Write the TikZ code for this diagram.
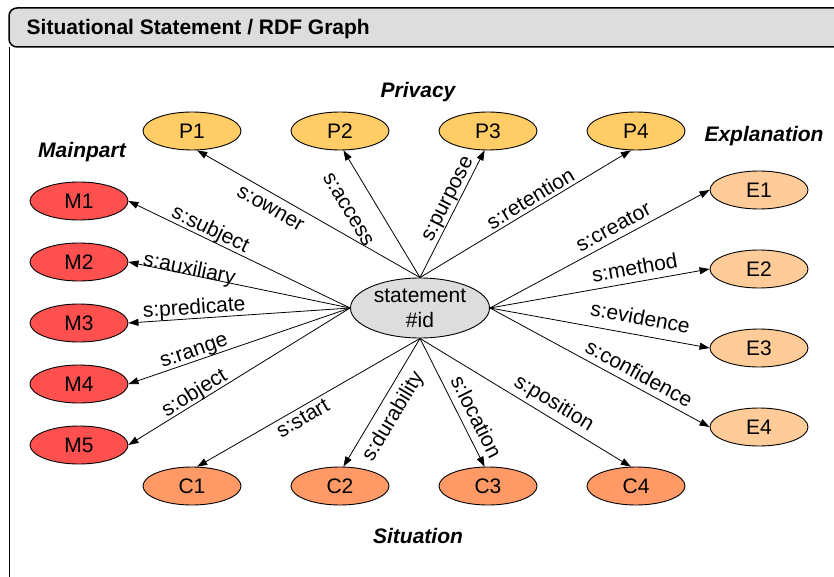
\documentclass[tikz,border=0pt]{standalone}
\usepackage{fontspec}
\setmainfont{Liberation Sans}
\usetikzlibrary{shapes,arrows.meta,positioning}
\definecolor{privfill}{HTML}{FFCC66}
\definecolor{mainfill}{HTML}{FF5050}
\definecolor{explfill}{HTML}{FFCC99}
\definecolor{sitfill}{HTML}{FF9966}
\definecolor{stmtfill}{HTML}{DDDDDD}
\tikzstyle{res} = [ellipse, draw, line width=0.9pt, minimum width=98pt, minimum height=38pt, inner sep=0pt, font=\fontsize{21}{25}\selectfont]
\tikzstyle{priv} = [res, fill=privfill]
\tikzstyle{mainp} = [res, fill=mainfill]
\tikzstyle{expl} = [res, fill=explfill]
\tikzstyle{sit} = [res, fill=sitfill]
\tikzstyle{stmt} = [res, fill=stmtfill, minimum width=139pt, minimum height=60pt, align=center]
\tikzstyle{group} = [font=\fontsize{21}{25}\selectfont\bfseries\itshape]
\tikzstyle{prop} = [sloped, inner sep=0pt, text height=10.9pt, text depth=0pt, font=\fontsize{21}{25}\selectfont]

\begin{document}
\begin{tikzpicture}[x=1pt, y=-1pt, node distance=148pt, >={Triangle[length=10pt,width=7pt]}, line width=0.8pt]
    \path[use as bounding box, clip] (0,0) rectangle (834,577);
    % Rahmen
    \draw[line width=1.5pt, fill=stmtfill, rounded corners=8pt] (9,8) rectangle (860,47);
    \node[anchor=west, font=\fontsize{21}{25}\selectfont\bfseries] (title) at (23,29.5) {Situational Statement / RDF Graph};
    \draw[line width=1.5pt] (9.5,47) -- (9.5,600);

    % Aussage
    \node[stmt] (stmt) at (420,308) {statement\\\#id};

    % Privacy
    \node[priv] (P1) at (192,131) {P1};
    \node[priv, right of=P1] (P2) {P2};
    \node[priv, right of=P2] (P3) {P3};
    \node[priv, right of=P3] (P4) {P4};

    % Mainpart
    \node[mainp] (M1) at (79,201) {M1};
    \node[mainp, below of=M1, node distance=61pt] (M2) {M2};
    \node[mainp, below of=M2, node distance=61pt] (M3) {M3};
    \node[mainp, below of=M3, node distance=61pt] (M4) {M4};
    \node[mainp, below of=M4, node distance=61pt] (M5) {M5};

    % Explanation
    \node[expl] (E1) at (759,190) {E1};
    \node[expl, below of=E1, node distance=79pt] (E2) {E2};
    \node[expl, below of=E2, node distance=79pt] (E3) {E3};
    \node[expl, below of=E3, node distance=79pt] (E4) {E4};

    % Situation
    \node[sit] (C1) at (192,486) {C1};
    \node[sit, right of=C1] (C2) {C2};
    \node[sit, right of=C2] (C3) {C3};
    \node[sit, right of=C3] (C4) {C4};

    % Gruppen
    \node[group] (privacy) at (418,92) {Privacy};
    \node[group] (mainpart) at (82,152) {Mainpart};
    \node[group] (explanation) at (764,136) {Explanation};
    \node[group] (situation) at (418,536) {Situation};

    % Kanten
    \draw[->] (stmt.north) -- node[prop, below=8.5pt, pos=0.64] {s:owner} (P1.-75);
    \draw[->] (stmt.north) -- node[prop, below=21pt, pos=0.64] {s:access} (P2.-80);
    \draw[->] (stmt.north) -- node[prop, above=5pt, pos=0.58] {s:purpose} (P3.-100);
    \draw[->] (stmt.north) -- node[prop, above=3pt, pos=0.55] {s:retention} (P4.-105);

    \draw[->] (stmt.west) -- node[prop, above=3.5pt, pos=0.65] {s:subject} (M1.east);
    \draw[->] (stmt.west) -- node[prop, above=-1pt, pos=0.73] {s:auxiliary} (M2.east);
    \draw[->] (stmt.west) -- node[prop, above=4pt, pos=0.70] {s:predicate} (M3.east);
    \draw[->] (stmt.west) -- node[prop, above=4pt, pos=0.69] {s:range} (M4.east);
    \draw[->] (stmt.west) -- node[prop, above=3pt, pos=0.68] {s:object} (M5.east);

    \draw[->] (stmt.east) -- node[prop, above=6pt, pos=0.59] {s:creator} (E1.west);
    \draw[->] (stmt.east) -- node[prop, above=7pt, pos=0.67] {s:method} (E2.west);
    \draw[->] (stmt.east) -- node[prop, above=10pt, pos=0.67] {s:evidence} (E3.west);
    \draw[->] (stmt.east) -- node[prop, above=6pt, pos=0.65] {s:confidence} (E4.west);

    \draw[->] (stmt.south) -- node[prop, below=6pt, pos=0.55] {s:start} (C1.75);
    \draw[->] (stmt.south) -- node[prop, below=11.5pt, pos=0.54] {s:durability} (C2.80);
    \draw[->] (stmt.south) -- node[prop, above=7.5pt, pos=0.665] {s:location} (C3.100);
    \draw[->] (stmt.south) -- node[prop, above=8pt, pos=0.60] {s:position} (C4.105);
\end{tikzpicture}
\end{document}
